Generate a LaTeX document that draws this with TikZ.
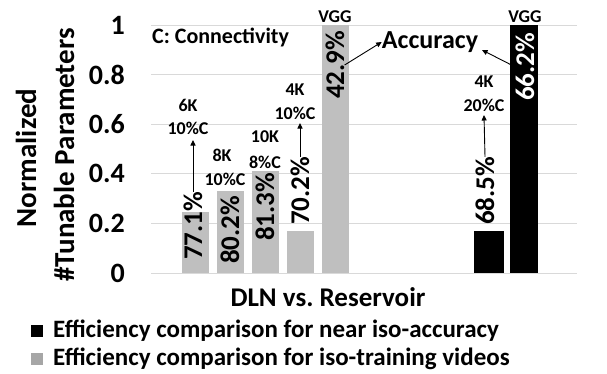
\documentclass[tikz,border=0pt]{standalone}
\usepackage{fontspec}
\setmainfont{Carlito}
\usetikzlibrary{arrows.meta}
\definecolor{barg}{HTML}{BFBFBF}
\definecolor{legg}{HTML}{A6A6A6}
\definecolor{gridc}{HTML}{D9D9D9}
\begin{document}
\begin{tikzpicture}[x=1pt,y=-1pt,
  gridln/.style={draw=gridc, line width=1pt},
  gbar/.style={fill=barg},
  kbar/.style={fill=black},
  val/.style={rotate=90, font=\bfseries\fontsize{27}{27}\selectfont, inner sep=0pt},
  small/.style={font=\bfseries\fontsize{18}{18}\selectfont, inner sep=1pt},
  arr/.style={-{Triangle[length=5.5pt,width=5pt]}, line width=0.9pt},
  ticklab/.style={font=\bfseries\fontsize{28}{28}\selectfont, anchor=east, inner sep=0pt},
  ytitle/.style={rotate=90, font=\bfseries\fontsize{29}{29}\selectfont, inner sep=0pt},
  legtext/.style={font=\bfseries\fontsize{25}{25}\selectfont, anchor=west, inner sep=0pt}]
\useasboundingbox (0,0) rectangle (607,373);
% grid
\foreach \v/\t [count=\i] in {0/0,1/0.2,2/0.4,3/0.6,4/0.8,5/1} {
  \draw[gridln] (151,273-\v*49.6) -- (577,273-\v*49.6);
  \node[ticklab] (tk\i) at (125,273-\v*49.6) {\t};
}
% bars
\path[gbar] (182,273) rectangle (209,212);
\path[gbar] (217,273) rectangle (244,191);
\path[gbar] (252,273) rectangle (279,171);
\path[gbar] (287,273) rectangle (314,231);
\path[gbar] (322,273) rectangle (349,25);
\path[kbar] (474,273) rectangle (504,231);
\path[kbar] (510,273) rectangle (538,25);
% value labels
\node[val] (l1) at (193,226) {77.1\%};
\node[val] (l2) at (230,230) {80.2\%};
\node[val] (l3) at (265,207) {81.3\%};
\node[val] (l4) at (300,191) {70.2\%};
\node[val] (l5) at (335,65) {42.9\%};
\node[val] (l6) at (485,191) {68.5\%};
\node[val, text=white] (l7) at (525,67) {66.2\%};
% small labels
\node[small] (a1) at (188,105) {6K};
\node[small] (b1) at (188,128) {10\%C};
\node[small] (a2) at (222,155) {8K};
\node[small] (b2) at (225,179) {10\%C};
\node[small] (a3) at (265,137) {10K};
\node[small] (b3) at (265,162) {8\%C};
\node[small] (a4) at (295,90) {4K};
\node[small] (b4) at (295,113) {10\%C};
\node[small] (v5) at (335,17) {VGG};
\node[small] (a6) at (484,82) {4K};
\node[small] (b6) at (484,105) {20\%C};
\node[small] (v7) at (525,17) {VGG};
\node[font=\bfseries\fontsize{22}{22}\selectfont, anchor=west, inner sep=0pt] (conn) at (152,37) {C: Connectivity};
\node[font=\bfseries\fontsize{26}{26}\selectfont, inner sep=0pt] (acc) at (430,42) {Accuracy};
% arrows
\draw[arr] (l1.east) -- (193,140);
\draw[arr] (l4.east) -- (300,123);
\draw[arr] (l6.east) -- (484,115);
\draw[arr] (l5.south) -- (acc.west);
\draw[arr] (l7.north) -- (482,50);
% axis titles
\node[ytitle] (yt1) at (26,158) {Normalized};
\node[ytitle] (yt2) at (64,155) {\#Tunable Parameters};
\node[font=\bfseries\fontsize{27}{27}\selectfont, inner sep=0pt] (xt) at (328,297) {DLN vs.\ Reservoir};
% legend
\path[fill=black] (31,325) rectangle (43,337);
\node[legtext] (lg1) at (53,331) {Efficiency comparison for near iso-accuracy};
\path[fill=legg] (31,353) rectangle (43,365);
\node[legtext] (lg2) at (53,359) {Efficiency comparison for iso-training videos};
\end{tikzpicture}
\end{document}
